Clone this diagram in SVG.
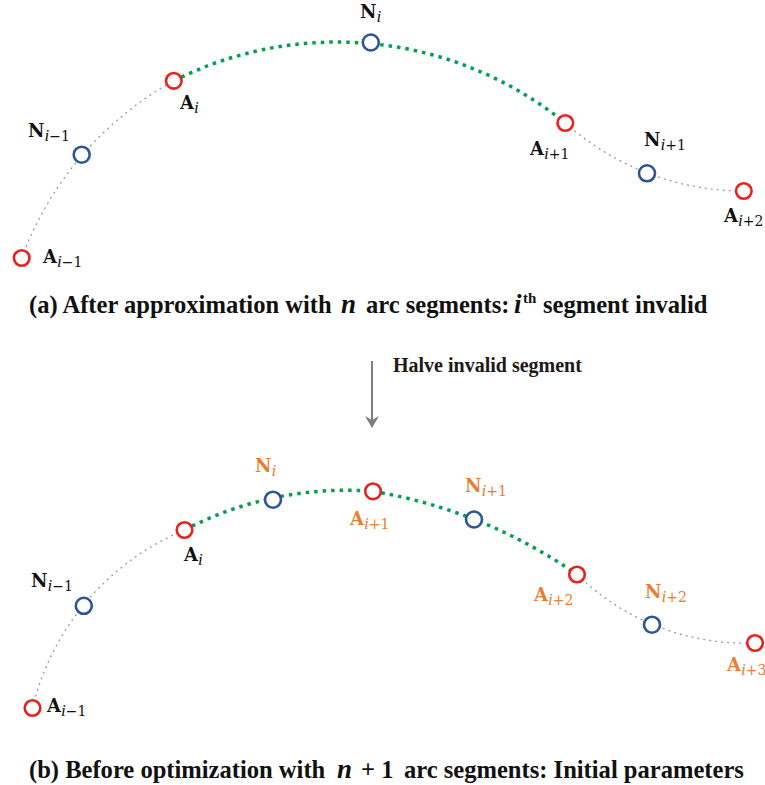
<svg xmlns="http://www.w3.org/2000/svg" width="765" height="785" viewBox="0 0 765 785">
<defs>
<style>
.gray{fill:none;stroke:#9a9a9a;stroke-width:1.3;stroke-dasharray:2 4;}
.green{fill:none;stroke:#00a04e;stroke-width:3.5;stroke-dasharray:3.5 5;}
.ra{fill:#fff;stroke:#e8211c;stroke-width:2.6;}
.bn{fill:#fff;stroke:#2f5597;stroke-width:2.6;}
.lbl{font-family:"DejaVu Serif","Liberation Serif",serif;font-weight:bold;font-size:18px;fill:#111;}
.or{fill:#e97d31;}
.sub{font-family:"Liberation Serif","DejaVu Serif",serif;font-style:italic;font-weight:normal;font-size:17px;}
.subn{font-family:"DejaVu Serif","Liberation Serif",serif;font-weight:normal;font-size:14px;}
.cap{font-family:"Liberation Serif","Times New Roman",serif;font-weight:bold;font-size:26px;fill:#111;}
.math{font-family:"Liberation Serif","Times New Roman",serif;font-weight:bold;font-style:italic;font-size:27px;fill:#111;}
.sup{font-family:"Liberation Serif","Times New Roman",serif;font-weight:bold;font-size:15px;fill:#111;}
.note{font-family:"Liberation Serif","Times New Roman",serif;font-weight:bold;font-size:20px;fill:#231815;}
</style>
<marker id="ah" markerWidth="14" markerHeight="14" refX="11" refY="7" orient="auto" markerUnits="userSpaceOnUse" viewBox="0 0 14 14">
<path d="M0,0 L12,7 L0,14 L4,7 Z" fill="#7f7f7f"/>
</marker>
</defs>
<rect width="765" height="785" fill="#fff"/>

<g id="connectors">
<path class="gray" d="M21.7,258 A335.4,335.4 0 0 1 173.8,80.8"/>
<path class="green" d="M173.8,80.8 A362.6,362.6 0 0 1 565.3,123"/>
<path class="gray" d="M565.3,123 A268.9,268.9 0 0 0 743.8,191"/>
<path class="gray" d="M32.5,708 A258.4,258.4 0 0 1 184.5,530"/>
<path class="green" d="M184.5,530 A348.8,348.8 0 0 1 373,491.3"/>
<path class="green" d="M373,491.3 A501,501 0 0 1 577,574.5"/>
<path class="gray" d="M577,574.5 A242,242 0 0 0 755,643"/>
<line x1="372" y1="361" x2="372" y2="427" stroke="#7f7f7f" stroke-width="2" marker-end="url(#ah)"/>
</g>

<g id="top-A_im1"><circle class="ra" cx="21.7" cy="258" r="7.8"/><text class="lbl" x="43" y="263">A<tspan class="sub" dy="4">i</tspan><tspan class="subn">−1</tspan></text></g>
<g id="top-N_im1"><circle class="bn" cx="81.7" cy="154.7" r="8"/><text class="lbl" x="28" y="137">N<tspan class="sub" dy="4">i</tspan><tspan class="subn">−1</tspan></text></g>
<g id="top-A_i"><circle class="ra" cx="173.8" cy="80.8" r="7.8"/><text class="lbl" x="180" y="109">A<tspan class="sub" dy="4">i</tspan></text></g>
<g id="top-N_i"><circle class="bn" cx="370.8" cy="42.5" r="8"/><text class="lbl" x="360" y="18">N<tspan class="sub" dy="4">i</tspan></text></g>
<g id="top-A_ip1"><circle class="ra" cx="565.3" cy="123" r="7.8"/><text class="lbl" x="530" y="155">A<tspan class="sub" dy="4">i</tspan><tspan class="subn">+1</tspan></text></g>
<g id="top-N_ip1"><circle class="bn" cx="647" cy="173.3" r="8"/><text class="lbl" x="644" y="146">N<tspan class="sub" dy="4">i</tspan><tspan class="subn">+1</tspan></text></g>
<g id="top-A_ip2"><circle class="ra" cx="743.8" cy="191" r="7.8"/><text class="lbl" x="724" y="222">A<tspan class="sub" dy="4">i</tspan><tspan class="subn">+2</tspan></text></g>

<g id="caption-a">
<text class="cap" transform="translate(29,313) scale(0.945,1)">(a) After approximation with</text>
<text class="math" x="341" y="313">n</text>
<text class="cap" transform="translate(366,313) scale(0.945,1)">arc segments:</text>
<text class="math" x="514" y="313">i</text>
<text class="sup" x="523" y="303">th</text>
<text class="cap" transform="translate(543,313) scale(0.945,1)">segment invalid</text>
</g>

<g id="arrow-label"><text class="note" x="393" y="372">Halve invalid segment</text></g>

<g id="bot-A_im1"><circle class="ra" cx="32.5" cy="708" r="7.8"/><text class="lbl" x="47" y="712">A<tspan class="sub" dy="4">i</tspan><tspan class="subn">−1</tspan></text></g>
<g id="bot-N_im1"><circle class="bn" cx="83.8" cy="605.8" r="8"/><text class="lbl" x="31" y="587">N<tspan class="sub" dy="4">i</tspan><tspan class="subn">−1</tspan></text></g>
<g id="bot-A_i"><circle class="ra" cx="184.5" cy="530" r="7.8"/><text class="lbl" x="184" y="561">A<tspan class="sub" dy="4">i</tspan></text></g>
<g id="bot-N_i"><circle class="bn" cx="273" cy="499.7" r="8"/><text class="lbl or" x="255" y="472">N<tspan class="sub" dy="4">i</tspan></text></g>
<g id="bot-A_ip1"><circle class="ra" cx="373" cy="491.3" r="7.8"/><text class="lbl or" x="350" y="525">A<tspan class="sub" dy="4">i</tspan><tspan class="subn">+1</tspan></text></g>
<g id="bot-N_ip1"><circle class="bn" cx="474" cy="519.5" r="8"/><text class="lbl or" x="465" y="492">N<tspan class="sub" dy="4">i</tspan><tspan class="subn">+1</tspan></text></g>
<g id="bot-A_ip2"><circle class="ra" cx="577" cy="574.5" r="7.8"/><text class="lbl or" x="534" y="601">A<tspan class="sub" dy="4">i</tspan><tspan class="subn">+2</tspan></text></g>
<g id="bot-N_ip2"><circle class="bn" cx="652" cy="624.7" r="8"/><text class="lbl or" x="645" y="598">N<tspan class="sub" dy="4">i</tspan><tspan class="subn">+2</tspan></text></g>
<g id="bot-A_ip3"><circle class="ra" cx="755" cy="643" r="7.8"/><text class="lbl or" x="727" y="671">A<tspan class="sub" dy="4">i</tspan><tspan class="subn">+3</tspan></text></g>

<g id="caption-b">
<text class="cap" transform="translate(29,778) scale(0.945,1)">(b) Before optimization with</text>
<text class="math" x="337" y="778">n</text>
<text class="cap" transform="translate(361,778) scale(0.945,1)">+ 1</text>
<text class="cap" transform="translate(404,778) scale(0.945,1)">arc segments: Initial parameters</text>
</g>
</svg>
